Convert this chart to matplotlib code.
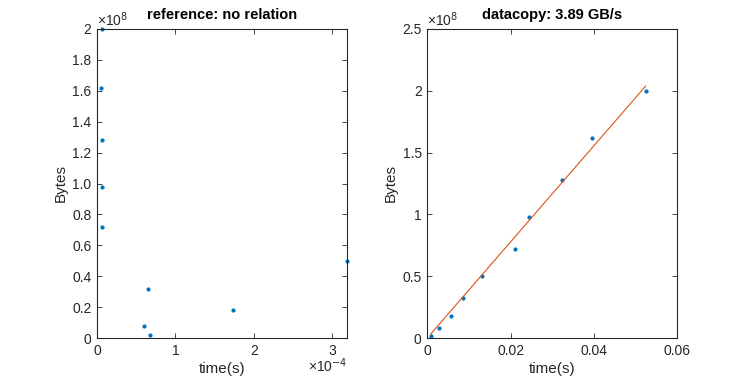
import numpy as np
import matplotlib.pyplot as plt

plt.rcParams['font.family'] = ['Liberation Sans', 'DejaVu Sans']

# bytes copied (same sizes in both panels)
nbytes = [0.02e8, 0.08e8, 0.18e8, 0.32e8, 0.50e8, 0.72e8, 0.98e8, 1.28e8, 1.62e8, 2.00e8]

# reference timings (s)
t_ref = [0.67e-4, 0.60e-4, 1.73e-4, 0.654e-4, 3.19e-4, 0.07e-4, 0.06e-4, 0.06e-4, 0.055e-4, 0.07e-4]

# datacopy timings (s)
t_copy = [0.0008, 0.0028, 0.0056, 0.0085, 0.0132, 0.0211, 0.0243, 0.0324, 0.0395, 0.0524]

# linear fit shown in the title (bytes per second)
fit_slope = 3.89e9
fit_intercept = 0.0

blue = '#0072BD'
orange = '#D95319'
axcol = '#262626'

fig = plt.figure(figsize=(7.49, 3.82), dpi=100)
ax1 = fig.add_axes([97 / 749, 44 / 382, 250 / 749, 309 / 382])
ax2 = fig.add_axes([427.3 / 749, 44 / 382, 250 / 749, 309 / 382])


def style(ax):
    ax.tick_params(direction='in', top=True, right=True, length=3.5, width=0.6,
                   colors=axcol, labelsize=10, labelcolor=axcol, pad=4)
    for s in ax.spines.values():
        s.set_color(axcol)
        s.set_linewidth(0.8)


# left panel
ax1.plot(t_ref, nbytes, '.', color=blue, markersize=4, clip_on=False)
ax1.set_xlim(0, max(t_ref))
ax1.set_ylim(0, 2e8)
xt = [0, 1e-4, 2e-4, 3e-4]
ax1.set_xticks(xt)
ax1.set_xticklabels(['0', '1', '2', '3'])
yt = np.arange(0, 2.01, 0.2)
ax1.set_yticks(yt * 1e8)
ax1.set_yticklabels(['0'] + ['%.1f' % v for v in yt[1:-1]] + ['2'])
style(ax1)
ax1.set_title('reference: no relation', fontsize=10.5, fontweight='bold', pad=7)
ax1.set_xlabel('time(s)', fontsize=11, color=axcol, labelpad=3)
ax1.set_ylabel('Bytes', fontsize=11, color=axcol, labelpad=3)
ax1.text(0, 1.01, '×10$^{8}$', transform=ax1.transAxes, fontsize=10, color=axcol,
         ha='left', va='baseline')
ax1.text(1.0, -0.11, '×10$^{-4}$', transform=ax1.transAxes, fontsize=10, color=axcol,
         ha='right', va='baseline')

# right panel
xf = np.array([min(t_copy), max(t_copy)])
ax2.plot(t_copy, nbytes, '.', color=blue, markersize=4)
ax2.plot(xf, fit_slope * xf + fit_intercept, '-', color=orange, linewidth=0.8)
ax2.set_xlim(0, 0.06)
ax2.set_ylim(0, 2.5e8)
ax2.set_xticks([0, 0.02, 0.04, 0.06])
ax2.set_xticklabels(['0', '0.02', '0.04', '0.06'])
yt2 = [0, 0.5, 1, 1.5, 2, 2.5]
ax2.set_yticks(np.array(yt2) * 1e8)
ax2.set_yticklabels(['0', '0.5', '1', '1.5', '2', '2.5'])
style(ax2)
ax2.set_title('datacopy: %.2f GB/s' % (fit_slope / 1e9), fontsize=10.5, fontweight='bold', pad=7)
ax2.set_xlabel('time(s)', fontsize=11, color=axcol, labelpad=3)
ax2.set_ylabel('Bytes', fontsize=11, color=axcol, labelpad=3)
ax2.text(0, 1.01, '×10$^{8}$', transform=ax2.transAxes, fontsize=10, color=axcol,
         ha='left', va='baseline')

fig.savefig('out.png', dpi=100, facecolor='white')
